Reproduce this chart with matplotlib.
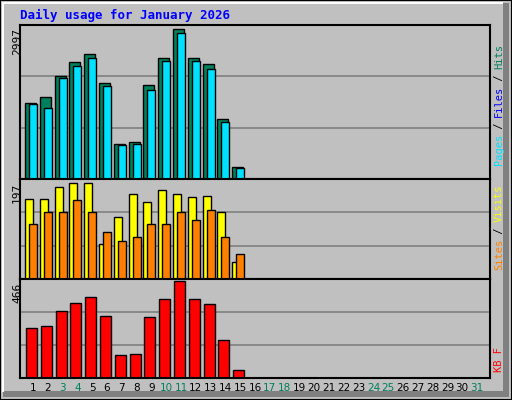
import matplotlib
matplotlib.use("Agg")
import matplotlib.pyplot as plt
from matplotlib.patches import Rectangle
import numpy as np

days = list(range(1, 32))
weekend_days = [3, 4, 10, 11, 17, 18, 24, 25, 31]
hits = [1513, 1634, 2059, 2343, 2505, 1918, 703, 743, 1877, 2424, 2997, 2424, 2302, 1189, 237]
files = [1492, 1411, 2019, 2262, 2424, 1857, 682, 703, 1776, 2363, 2910, 2363, 2201, 1148, 217]
visits = [165, 165, 188, 197, 197, 71, 127, 174, 159, 182, 174, 169, 171, 137, 35]
sites = [112, 137, 137, 163, 137, 97, 78, 86, 112, 112, 137, 122, 142, 86, 52]
kbytes = [241, 252, 323, 359, 389, 298, 109, 114, 293, 379, 466, 379, 354, 185, 37]
title = "Daily usage for January 2026"

W, H = 512, 400
fig = plt.figure(figsize=(W/100, H/100), dpi=100)
fig.patch.set_facecolor("#c0c0c0")
mono = "DejaVu Sans Mono"

def rect(x0, y0, x1, y1, **kw):
    fig.patches.append(Rectangle((x0/W, 1-y1/H), (x1-x0)/W, (y1-y0)/H,
                                 transform=fig.transFigure, zorder=-10, **kw))

rect(0, 0, W, H, facecolor="#c0c0c0", edgecolor="black", lw=1.5)
rect(503, 3, 509, 397, facecolor="#808080", edgecolor="none")
rect(3, 391, 509, 397, facecolor="#808080", edgecolor="none")
rect(2, 2, 4, 392, facecolor="white", edgecolor="none")
rect(2, 2, 503, 4, facecolor="white", edgecolor="none")

fig.text(20/W, 1-15/H, title, color="#0000ff", fontsize=9, fontweight="bold",
         family=mono, va="center", ha="left")

X0, X1 = 20, 490
xlim = (0.12, 31.88)
n = len(hits)
x = np.arange(1, n+1)

def mkax(top, bot):
    ax = fig.add_axes([X0/W, 1-bot/H, (X1-X0)/W, (bot-top)/H])
    ax.set_facecolor("#c0c0c0")
    ax.set_xlim(*xlim)
    ax.set_xticks([])
    ax.set_yticks([])
    for s in ax.spines.values():
        s.set_linewidth(1.5)
        s.set_color("black")
    return ax

def grid(ax, ymax):
    for f in (1/3, 2/3):
        ax.axhline(ymax*f, color="#808080", lw=1.2, zorder=0)

# Panel 1
ax1 = mkax(25, 179)
ymax1 = max(hits)*154/150
ax1.set_ylim(0, ymax1)
grid(ax1, ymax1)
ax1.bar(x-0.17, hits, width=0.74, color="#00805c", edgecolor="black", lw=1, zorder=2)
ax1.bar(x, files, width=0.54, color="#00e0ff", edgecolor="black", lw=1, zorder=3)

# Panel 2
ax2 = mkax(179, 279)
ymax2 = max(visits)*98/94
ax2.set_ylim(0, ymax2)
grid(ax2, ymax2)
ax2.bar(x-0.27, visits, width=0.54, color="#ffff00", edgecolor="black", lw=1, zorder=2)
ax2.bar(x, sites, width=0.54, color="#ff8000", edgecolor="black", lw=1, zorder=3)

# Panel 3
ax3 = mkax(279, 378)
ymax3 = max(kbytes)*97/95
ax3.set_ylim(0, ymax3)
grid(ax3, ymax3)
ax3.bar(x-0.1, kbytes, width=0.74, color="#ff0000", edgecolor="black", lw=1, zorder=2)

# max labels
for lab, ytop in ((str(max(hits)), 28), (str(max(visits)), 183), (str(max(kbytes)), 283)):
    fig.text(17/W, 1-ytop/H, lab, rotation=90, fontsize=8, family=mono,
             ha="center", va="top", color="black")

# day labels
for d in days:
    xp = X0 + (d - xlim[0]) / (xlim[1]-xlim[0]) * (X1-X0)
    fig.text(xp/W, 1-388/H, str(d), fontsize=7.5, family="DejaVu Sans",
             ha="center", va="center",
             color="#00805c" if d in weekend_days else "black")

# right-side legends
cw = 6.0
def vlabel(pieces, ybot, xp=499):
    y = ybot
    for txt, col in pieces:
        fig.text(xp/W, 1-y/H, txt, rotation=90, fontsize=7.5, family=mono,
                 ha="center", va="bottom", color=col)
        y -= cw*len(txt)

vlabel([("Pages", "#00e0ff"), (" / ", "black"), ("Files", "#0000ff"),
        (" / ", "black"), ("Hits", "#00805c")], 165)
vlabel([("Sites", "#ff8000"), (" / ", "black"), ("Visits", "#ffff00")], 270)
vlabel([("KB F", "#ff0000")], 372)

fig.savefig("out.png", dpi=100, facecolor=fig.get_facecolor())
